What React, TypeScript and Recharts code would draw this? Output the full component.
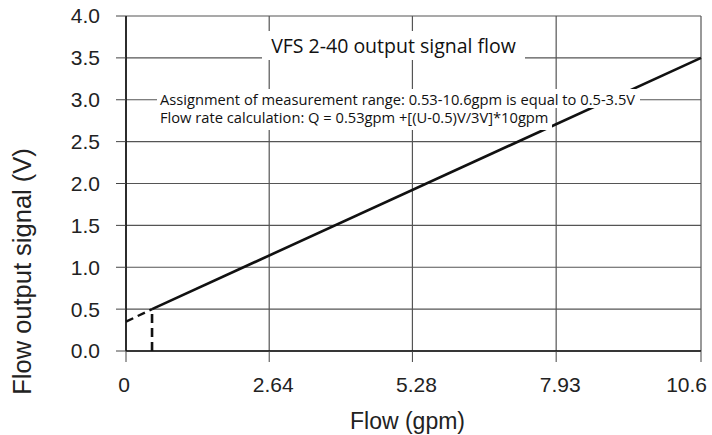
import { LineChart, Line, XAxis, YAxis, CartesianGrid } from 'recharts'

const flowTicks = [0, 2.64, 5.28, 7.93, 10.6]
const signalTicks = [0, 0.5, 1.0, 1.5, 2.0, 2.5, 3.0, 3.5, 4.0]

// measured range: solid line
const signalLine = [
  { flow: 0.48, volts: 0.5 },
  { flow: 10.6, volts: 3.5 },
]
// extrapolation back to zero flow (dashed)
const extrapolation = [
  { flow: 0, volts: 0.35 },
  { flow: 0.48, volts: 0.5 },
]
// drop from start of range to the x axis (dashed)
const startMarker = [
  { flow: 0.48, volts: 0 },
  { flow: 0.48, volts: 0.5 },
]

const title = 'VFS 2-40 output signal flow'
const noteLines = [
  'Assignment of measurement range: 0.53-10.6gpm is equal to 0.5-3.5V',
  'Flow rate calculation: Q = 0.53gpm +[(U-0.5)V/3V]*10gpm',
]

const axisFont = 'Liberation Sans, Arial, sans-serif'
const tickFont = { fontFamily: axisFont, fontSize: 21, fill: '#222' }
const noteFont = 'Open Sans, sans-serif'

// last label is pulled inside the frame like in the original
function FlowTick(props: any) {
  const { x, y, payload, index } = props
  const last = index === flowTicks.length - 1
  const label = payload.value === 0 ? '0' : String(payload.value)
  return (
    <text
      x={last ? x + 9 : payload.value === 0 ? x - 2 : x + 4}
      y={y}
      dy="0.71em"
      textAnchor={last ? 'end' : 'middle'}
      fill="#222"
      fontFamily={axisFont}
      fontSize={21}
    >
      {label}
    </text>
  )
}

export default function App() {
  return (
    <div style={{ position: 'absolute', left: 0, top: 0, width: 712, height: 435, background: '#fff' }}>
      <LineChart width={712} height={435} data={signalLine} margin={{ top: 16, right: 11, bottom: 0, left: 0 }}>
        <CartesianGrid stroke="#555" strokeWidth={1.2} />
        <XAxis
          type="number"
          dataKey="flow"
          domain={[0, 10.6]}
          ticks={flowTicks}
          height={84}
          tickSize={11}
          tickMargin={15}
          stroke="#444"
          axisLine={{ stroke: '#111', strokeWidth: 1.6 }}
          tick={<FlowTick />}
          label={{ value: 'Flow (gpm)', position: 'insideBottom', offset: 6, dx: -6, style: { fontFamily: axisFont, fontSize: 23, fill: '#222' } }}
        />
        <YAxis
          type="number"
          domain={[0, 4]}
          ticks={signalTicks}
          tickFormatter={(v: number) => v.toFixed(1)}
          width={126}
          tickSize={10}
          tickMargin={16}
          stroke="#444"
          axisLine={{ stroke: '#111', strokeWidth: 1.6 }}
          tick={tickFont}
          label={{ value: 'Flow output signal (V)', angle: -90, position: 'center', dx: -41, dy: 88, style: { fontFamily: axisFont, fontSize: 25.5, fill: '#222' } }}
        />
        <Line data={signalLine} dataKey="volts" stroke="#111" strokeWidth={2.6} dot={false} isAnimationActive={false} />
        <Line data={extrapolation} dataKey="volts" stroke="#111" strokeWidth={2.4} strokeDasharray="8 5" dot={false} isAnimationActive={false} />
        <Line data={startMarker} dataKey="volts" stroke="#111" strokeWidth={2.6} strokeDasharray="9 5" dot={false} isAnimationActive={false} />
      </LineChart>
      <div
        style={{
          position: 'absolute', left: 262, top: 31, width: 263, height: 29, background: '#fff',
          fontFamily: noteFont, fontSize: 19.5, color: '#111', textAlign: 'center', lineHeight: '29px',
        }}
      >
        {title}
      </div>
      <div style={{ position: 'absolute', left: 157, top: 89 }}>
        {noteLines.map((t, i) => (
          <div
            key={i}
            style={{
              display: 'table', background: '#fff',
              padding: i === 0 ? '1px 5px 0 3px' : '0 4px 4px 3px',
              fontFamily: noteFont, fontSize: 14.7, color: '#111', lineHeight: '18px', whiteSpace: 'nowrap',
            }}
          >
            {t}
          </div>
        ))}
      </div>
    </div>
  )
}
